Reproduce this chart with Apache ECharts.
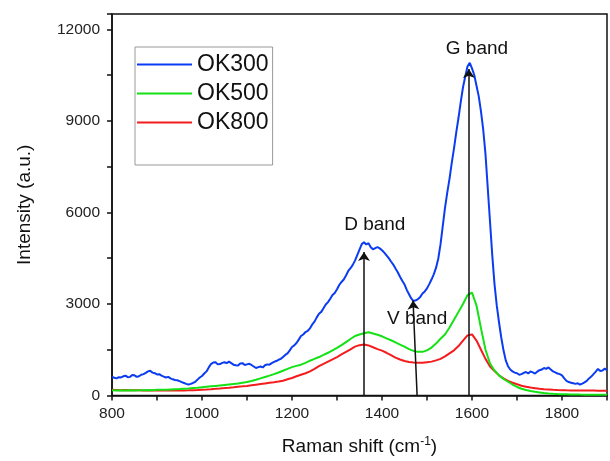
<!DOCTYPE html>
<html>
<head>
<meta charset="utf-8">
<script src="https://cdn.jsdelivr.net/npm/echarts@6/dist/echarts.min.js"></script>
<style>
html,body{margin:0;padding:0;background:#fff;}
#chart{width:610px;height:461px;}
</style>
</head>
<body>
<div id="chart"></div>
<script>
// Raman shift (cm^-1), step 10 (OK500, OK800)
const ramanShift = [800,810,820,830,840,850,860,870,880,890,900,910,920,930,940,950,960,970,980,990,
1000,1010,1020,1030,1040,1050,1060,1070,1080,1090,1100,1110,1120,1130,1140,1150,1160,1170,1180,1190,
1200,1210,1220,1230,1240,1250,1260,1270,1280,1290,1300,1310,1320,1330,1340,1350,1360,1370,1380,1390,
1400,1410,1420,1430,1440,1450,1460,1470,1480,1490,1500,1510,1520,1530,1540,1550,1560,1570,1580,1590,
1600,1610,1620,1630,1640,1650,1660,1670,1680,1690,1700,1710,1720,1730,1740,1750,1760,1770,1780,1790,
1800,1810,1820,1830,1840,1850,1860,1870,1880,1890,1900];

// Raman shift (cm^-1), step 5 (OK300, noisier trace)
const ramanShiftFine = [800,805,810,815,820,825,830,835,840,845,850,855,860,865,870,875,880,885,890,895,
900,905,910,915,920,925,930,935,940,945,950,955,960,965,970,975,980,985,990,995,
1000,1005,1010,1015,1020,1025,1030,1035,1040,1045,1050,1055,1060,1065,1070,1075,1080,1085,1090,1095,
1100,1105,1110,1115,1120,1125,1130,1135,1140,1145,1150,1155,1160,1165,1170,1175,1180,1185,1190,1195,
1200,1205,1210,1215,1220,1225,1230,1235,1240,1245,1250,1255,1260,1265,1270,1275,1280,1285,1290,1295,
1300,1305,1310,1315,1320,1325,1330,1335,1340,1345,1350,1355,1360,1365,1370,1375,1380,1385,1390,1395,
1400,1405,1410,1415,1420,1425,1430,1435,1440,1445,1450,1455,1460,1465,1470,1475,1480,1485,1490,1495,
1500,1505,1510,1515,1520,1525,1530,1535,1540,1545,1550,1555,1560,1565,1570,1575,1580,1585,1590,1595,
1600,1605,1610,1615,1620,1625,1630,1635,1640,1645,1650,1655,1660,1665,1670,1675,1680,1685,1690,1695,
1700,1705,1710,1715,1720,1725,1730,1735,1740,1745,1750,1755,1760,1765,1770,1775,1780,1785,1790,1795,
1800,1805,1810,1815,1820,1825,1830,1835,1840,1845,1850,1855,1860,1865,1870,1875,1880,1885,1890,1895,1900];

const ok300 = [620,580,560,600,590,630,650,600,610,670,660,610,630,680,700,740,790,810,750,730,
690,700,650,620,590,610,560,530,510,500,470,440,410,380,360,380,410,450,520,590,
640,720,790,920,1030,1080,1090,1020,1030,1070,1090,1060,1110,1060,1010,990,980,1050,1060,1000,
1020,1040,1000,950,900,930,950,920,990,1020,1010,1060,1100,1130,1170,1200,1260,1330,1380,1480,
1590,1640,1720,1830,1950,2000,2080,2120,2200,2330,2420,2560,2680,2740,2860,2980,3060,3170,3290,3360,
3480,3620,3720,3800,3930,4080,4170,4280,4420,4600,4780,4960,5020,4950,4990,4860,4790,4830,4860,4820,
4760,4680,4590,4500,4390,4290,4160,4040,3890,3760,3640,3460,3320,3180,3090,3120,3160,3230,3340,3410,
3510,3650,3800,3970,4180,4480,4950,5550,6150,6650,7100,7620,8100,8620,9100,9620,10100,10450,10780,10900,
10720,10500,10150,9800,9300,8700,7900,6800,5700,4600,3650,2950,2400,1900,1480,1150,960,850,790,750,
730,680,700,740,770,720,790,760,720,780,830,850,900,870,920,850,790,760,720,700,
660,560,480,440,420,400,380,400,360,390,430,480,560,620,700,780,870,800,820,880,830];

const ok500 = [170,160,175,165,170,165,175,170,180,175,185,190,190,200,205,210,220,230,245,255,
270,285,300,315,330,345,360,375,390,415,440,475,515,560,605,650,700,755,810,870,
930,970,1010,1070,1140,1200,1260,1330,1400,1480,1560,1650,1750,1850,1950,2000,2040,2070,2030,1990,
1940,1870,1810,1740,1670,1600,1520,1460,1430,1430,1480,1570,1700,1860,2000,2230,2480,2740,3000,3290,
3370,2950,2200,1500,1050,820,660,540,450,360,280,220,180,145,120,100,80,68,58,50,
44,40,36,33,30,28,26,25,24,23,22];

const ok800 = [185,180,175,178,172,170,168,165,163,162,160,160,160,161,162,163,166,170,175,182,
190,198,207,218,230,243,257,272,288,300,315,335,355,375,395,415,435,458,482,530,
575,630,680,730,790,870,960,1035,1110,1185,1260,1345,1430,1515,1600,1650,1670,1640,1580,1520,
1470,1400,1320,1240,1180,1130,1100,1080,1070,1070,1090,1110,1150,1200,1280,1380,1480,1620,1800,1970,
2000,1800,1500,1200,950,800,660,560,480,420,370,320,290,260,240,220,205,195,185,178,
172,168,165,163,162,161,160,160,159,158,158];

const seriesNames = ['OK300','OK500','OK800'];
const seriesColors = ['#0b3cf2','#14e214','#f41c1c'];

// annotations: arrows [x0, y0, x1, y1] and labels [x, y, text]
const arrowLines = [[1360,0,1360,4700],[1478,0,1469,3110],[1593,0,1593,10700]];
const bandLabels = [[1384,5600,'D band'],[1478,2520,'V band'],[1611,11360,'G band']];

const xTicks = {min:800, max:1900, interval:200};
const yTicks = {min:0, max:12500, interval:3000};

const font = 'Liberation Sans, Arial, sans-serif';
const chart = echarts.init(document.getElementById('chart'), null, {renderer:'canvas'});

function pairs(xs, ys){ return xs.map((x,i)=>[x, ys[i]]); }

const axisCommon = {
  axisLine:{show:true, onZero:false, lineStyle:{color:'#111', width:1.5}},
  axisTick:{show:true, inside:false, length:5, lineStyle:{color:'#111', width:1.5}},
  minorTick:{show:true, splitNumber:2, length:5, lineStyle:{color:'#111', width:1.5}},
  splitLine:{show:false},
  axisLabel:{color:'#222', fontSize:15.5, fontFamily:font, showMaxLabel:false, formatter:v=>String(v)}
};

const option = {
  animation:false,
  backgroundColor:'#fff',
  grid:{left:112, right:3, top:14, bottom:64, show:true, borderColor:'#111', borderWidth:1.5},
  legend:{
    data:seriesNames,
    orient:'vertical',
    left:135, top:47,
    padding:[6,4,31,2],
    itemGap:6,
    itemWidth:55, itemHeight:23,
    borderColor:'#999', borderWidth:1,
    icon:'path://M0,10 L55,10 L55,12 L0,12 Z',
    textStyle:{fontSize:23, fontFamily:font, color:'#111'}
  },
  xAxis:Object.assign({}, axisCommon, {
    type:'value', min:xTicks.min, max:xTicks.max, interval:xTicks.interval,
    axisLabel:Object.assign({}, axisCommon.axisLabel, {margin:10}),
    name:'Raman shift (cm{sup|-1})', nameLocation:'middle', nameGap:40,
    nameTextStyle:{fontSize:19, fontFamily:font, color:'#111',
      rich:{sup:{fontSize:12, verticalAlign:'top', padding:[0,0,10,0], fontFamily:font, color:'#111'}}}
  }),
  yAxis:Object.assign({}, axisCommon, {
    type:'value', min:yTicks.min, max:yTicks.max, interval:yTicks.interval,
    axisLabel:Object.assign({}, axisCommon.axisLabel, {margin:12}),
    name:'Intensity (a.u.)', nameLocation:'middle', nameGap:78,
    nameTextStyle:{fontSize:19, fontFamily:font, color:'#111'}
  }),
  series:[
    {name:seriesNames[0], type:'line', data:pairs(ramanShiftFine, ok300), showSymbol:false, symbol:'none',
      lineStyle:{color:seriesColors[0], width:2}, itemStyle:{color:seriesColors[0]}, z:4},
    {name:seriesNames[1], type:'line', data:pairs(ramanShift, ok500), showSymbol:false, symbol:'none',
      lineStyle:{color:seriesColors[1], width:2}, itemStyle:{color:seriesColors[1]}, z:3},
    {name:seriesNames[2], type:'line', data:pairs(ramanShift, ok800), showSymbol:false, symbol:'none',
      lineStyle:{color:seriesColors[2], width:2}, itemStyle:{color:seriesColors[2]}, z:2},
    {
      type:'lines', coordinateSystem:'cartesian2d', silent:true, z:10,
      symbol:['none','arrow'], symbolSize:[1,9],
      lineStyle:{color:'#111', width:1.5, opacity:1},
      data:arrowLines.map(a=>({coords:[[a[0],a[1]],[a[2],a[3]]]}))
    },
    {
      type:'scatter', silent:true, symbolSize:0, z:11,
      itemStyle:{opacity:1},
      data:bandLabels.map(l=>[l[0], l[1], l[2]]),
      label:{show:true, position:'inside', formatter:p=>p.value[2], fontSize:19, fontFamily:font,
        color:'#111', opacity:1, textBorderWidth:0}
    }
  ]
};
chart.setOption(option);
</script>
</body>
</html>
